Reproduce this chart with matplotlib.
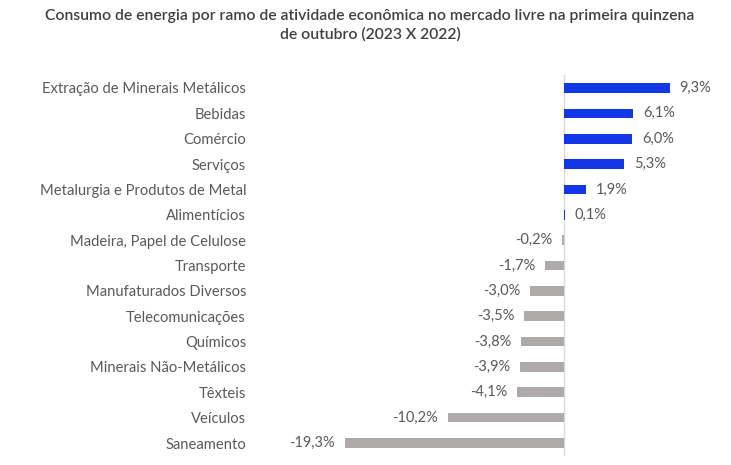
import matplotlib
matplotlib.use("Agg")
import matplotlib.pyplot as plt

categories = ["Extração de Minerais Metálicos", "Bebidas", "Comércio", "Serviços",
              "Metalurgia e Produtos de Metal", "Alimentícios", "Madeira, Papel de Celulose",
              "Transporte", "Manufaturados Diversos", "Telecomunicações", "Químicos",
              "Minerais Não-Metálicos", "Têxteis", "Veículos", "Saneamento"]
values = [9.3, 6.1, 6.0, 5.3, 1.9, 0.1, -0.2, -1.7, -3.0, -3.5, -3.8, -3.9, -4.1, -10.2, -19.3]
title = "Consumo de energia por ramo de atividade econômica no mercado livre na primeira quinzena\nde outubro (2023 X 2022)"

W, H, DPI = 731, 465, 100
fig = plt.figure(figsize=(W / DPI, H / DPI), dpi=DPI)
plt.rcParams['font.family'] = ['Lato', 'DejaVu Sans']

xmin, xmax = -21.0, 14.0
ax_left, ax_right = 325.4, 723.0
ax_top, ax_bottom = 75.3, 455.7
ax = fig.add_axes([ax_left / W, 1 - ax_bottom / H, (ax_right - ax_left) / W, (ax_bottom - ax_top) / H])

blue = "#1137E6"
gray = "#AEAAAA"
text_col = "#595959"
colors = [blue if v > 0 else gray for v in values]
ypos = list(range(len(categories)))
ax.barh(ypos, values, height=0.38, color=colors, zorder=2)
ax.axvline(0, color="#D9D9D9", lw=1.0, zorder=1)
ax.set_xlim(xmin, xmax)
ax.set_ylim(len(categories) - 0.5, -0.5)

for y, v in zip(ypos, values):
    lab = f"{v:.1f}".replace(".", ",") + "%"
    if v >= 0:
        ax.annotate(lab, (v, y), xytext=(7, 0), textcoords="offset points",
                    ha="left", va="center", fontsize=10.5, color=text_col)
    else:
        ax.annotate(lab, (v, y), xytext=(-7, 0), textcoords="offset points",
                    ha="right", va="center", fontsize=10.5, color=text_col)

ax.set_yticks(ypos)
ax.set_yticklabels(categories, fontsize=10.6, color=text_col)
ax.tick_params(axis="y", length=0, pad=(ax_left - 246) / DPI * 72)
ax.set_xticks([])
for s in ax.spines.values():
    s.set_visible(False)

fig.text(370 / W, 1 - 9 / H, title, ha="center", va="top", fontsize=11.3,
         fontweight="semibold", color="#404040", linespacing=1.35)

fig.savefig("out.png", dpi=DPI)
